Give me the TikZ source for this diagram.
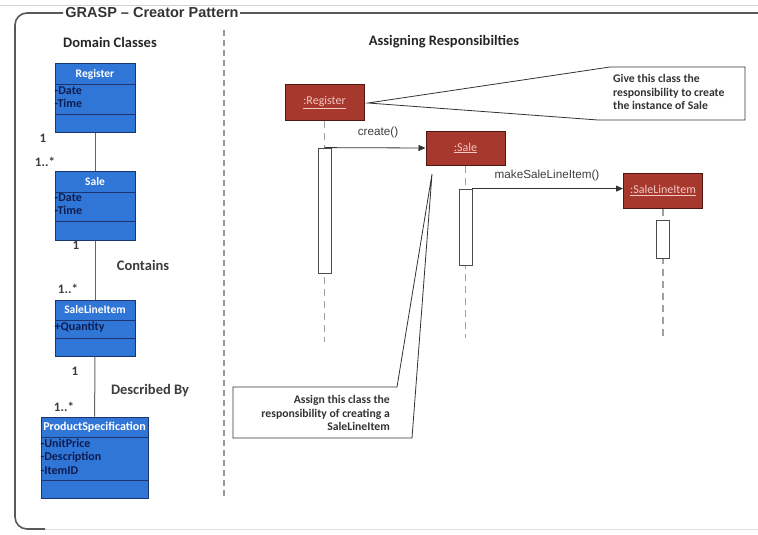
\documentclass[tikz,border=0pt]{standalone}
\usepackage{fontspec}
\setmainfont{Carlito}
\newfontfamily\arialfont{Liberation Sans}
\usetikzlibrary{arrows.meta}

\definecolor{classblue}{RGB}{48,118,214}
\definecolor{classedge}{RGB}{30,52,110}
\definecolor{attrtext}{RGB}{14,28,80}
\definecolor{objred}{RGB}{166,56,46}
\definecolor{objedge}{RGB}{80,22,18}
\definecolor{objtext}{RGB}{246,200,196}
\definecolor{labelgray}{RGB}{60,60,60}

\tikzset{
  classbox/.style={draw=classedge, line width=1pt, fill=classblue, inner sep=0pt},
  classdiv/.style={draw=classedge, line width=1pt},
  classtitle/.style={font=\bfseries\fontsize{11.5}{13}\selectfont, text=white, inner sep=0pt},
  attrlist/.style={font=\bfseries\fontsize{12}{13.5}\selectfont, text=attrtext, align=left, inner sep=1pt, anchor=north west},
  mult/.style={font=\bfseries\fontsize{13}{14}\selectfont, text=labelgray, inner sep=0pt},
  relname/.style={font=\bfseries\fontsize{14.5}{16}\selectfont, text=labelgray, inner sep=0pt},
  assoc/.style={draw=gray!80!black, line width=1pt},
  heading/.style={font=\bfseries\fontsize{14.5}{16}\selectfont, text=black!85, inner sep=0pt},
  objbox/.style={draw=objedge, line width=1pt, fill=objred, minimum width=79pt, minimum height=35pt,
    font=\fontsize{12}{14}\selectfont, text=objtext, inner sep=0pt},
  actbar/.style={draw=black!70, line width=0.8pt, fill=white, minimum width=13pt, inner sep=0pt},
  lifeline/.style={draw=gray!75, line width=1.2pt, dash pattern=on 7pt off 5pt},
  msg/.style={draw=black!80, line width=0.8pt, -{Triangle[length=7pt,width=6pt]}},
  msglabel/.style={font=\arialfont\fontsize{11.7}{14}\selectfont, text=labelgray, inner sep=0pt},
  callout/.style={draw=black!80, line width=0.8pt, fill=white},
  notetext/.style={font=\bfseries\fontsize{11.7}{13.8}\selectfont, text=black!80, inner sep=0pt},
  frameline/.style={draw=gray!70!black, line width=1.6pt},
}

\begin{document}
\begin{tikzpicture}[x=1pt,y=-1pt]
\useasboundingbox (0,0) rectangle (758,535);

% outer frame with its title
\draw[draw=gray!35, line width=0.8pt] (0,5) -- (758,5);
\draw[frameline, rounded corners=12pt] (63,13) -- (15,13) -- (15,529) -- (45,529);
\draw[draw=gray!25, line width=1pt] (45,529) -- (758,529);
\draw[frameline] (240,13) -- (758,13);
\node[font=\arialfont\bfseries\fontsize{14.5}{16}\selectfont, text=black!80, inner sep=0pt] (title) at (152,12.5) {GRASP – Creator Pattern};

% divider between the two halves
\draw[draw=gray!80, line width=1.5pt, dash pattern=on 6pt off 4pt] (224,30) -- (224,498);

\node[heading] (hdom) at (110,42) {Domain Classes};
\node[heading] (hasg) at (444,42) {Assigning Responsibilties};

% ---------------- domain classes ----------------
% Register
\node[classbox, minimum width=80pt, minimum height=68pt] (reg) at (95,98) {};
\draw[classdiv] (55,85) -- (135,85);
\draw[classdiv] (55,114) -- (135,114);
\node[classtitle] (regT) at (95,74.5) {Register};
\node[attrlist] (regA) at (53.5,85.5) {-Date\\-Time};

% Sale
\node[classbox, minimum width=80pt, minimum height=69pt] (sale) at (95,205.5) {};
\draw[classdiv] (55,192) -- (135,192);
\draw[classdiv] (55,221) -- (135,221);
\node[classtitle] (saleT) at (95,181.5) {Sale};
\node[attrlist] (saleA) at (53.5,192.5) {-Date\\-Time};

% SaleLineItem
\node[classbox, minimum width=80pt, minimum height=56pt] (sli) at (95,328) {};
\draw[classdiv] (55,320) -- (135,320);
\draw[classdiv] (55,338) -- (135,338);
\node[classtitle] (sliT) at (95,310) {SaleLineItem};
\node[attrlist] (sliA) at (53.5,320.5) {+Quantity};

% ProductSpecification
\node[classbox, minimum width=107pt, minimum height=81pt] (ps) at (94.5,457.5) {};
\draw[classdiv] (41,437) -- (148,437);
\draw[classdiv] (41,480) -- (148,480);
\node[classtitle, font=\bfseries\fontsize{12}{13}\selectfont] (psT) at (94.5,427) {ProductSpecification};
\node[attrlist] (psA) at (39.5,437.5) {-UnitPrice\\-Description\\-ItemID};

% associations
\draw[assoc] (reg) -- (sale);
\draw[assoc] (sale) -- (sli);
\draw[assoc] (sli) -- (ps);

\node[mult] (m1) at (43,138) {1};
\node[mult] (m2) at (45,162) {1..*};
\node[mult] (m3) at (76,245) {1};
\node[relname] (r1) at (143,265) {Contains};
\node[mult] (m4) at (68,289) {1..*};
\node[mult] (m5) at (75,371) {1};
\node[relname] (r2) at (150,391) {Described By};
\node[mult] (m6) at (64,407) {1..*};

% ---------------- sequence diagram ----------------
\node[objbox] (oreg) at (324.5,102.5) {\underline{:Register}};
\node[objbox, minimum height=34pt] (osale) at (465.5,148) {\underline{:Sale}};
\node[objbox] (osli) at (663,190.5) {\underline{:SaleLineItem}};

\coordinate (regEnd) at (324.5,342);
\coordinate (saleEnd) at (465.5,338);
\coordinate (sliEnd) at (663,338);
\draw[lifeline] (oreg.south) -- (regEnd);
\draw[lifeline] (osale.south) -- (saleEnd);
\draw[lifeline] (osli.south) -- (sliEnd);

\node[actbar, minimum height=125pt] (aReg) at (324.5,210.5) {};
\node[actbar, minimum height=76pt] (aSale) at (465.5,227) {};
\node[actbar, minimum height=38pt] (aSli) at (663,239) {};

\draw[msg] (aReg.north) -- (osale.west);
\node[msglabel] (lcreate) at (378,132) {create()};
\draw[msg] (aSale.north east) -- (aSale.north east -| osli.west);
\node[msglabel] (lmake) at (547,175) {makeSaleLineItem()};

% notes
\coordinate (tip1) at (368,103);
\draw[callout] (tip1) -- (610,67) -- (745,67) -- (745,120) -- (598,120) -- cycle;
\node[notetext, align=left, anchor=west] (note1) at (613,92) {Give this class the\\responsibility to create\\the instance of Sale};

\coordinate (tip2) at (432,174);
\draw[callout] (233,387) -- (397,387) -- (tip2) -- (412,438) -- (233,438) -- cycle;
\node[notetext, align=right, anchor=east] (note2) at (390,413) {Assign this class the\\responsibility of creating a\\SaleLineItem};
\end{tikzpicture}
\end{document}
